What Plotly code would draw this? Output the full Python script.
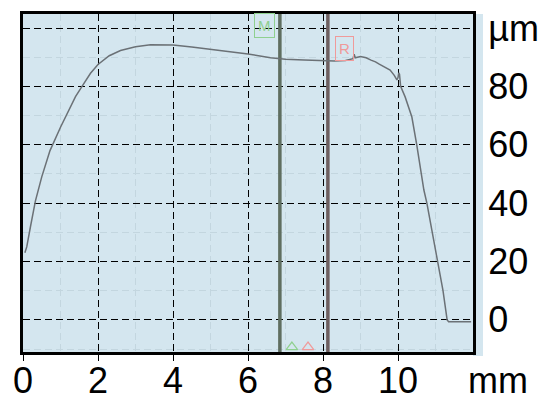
import plotly.graph_objects as go

# profile data (mm, µm)
x_mm = [0.05, 0.1, 0.2, 0.33, 0.5, 0.72, 1.0, 1.2, 1.4, 1.6, 1.8, 2.0, 2.3, 2.6, 3.0,
        3.4, 3.8, 4.0, 4.5, 5.0, 5.5, 6.0, 6.6, 7.0, 7.5, 8.0, 8.3, 8.6, 8.8, 8.83,
        8.86, 9.0, 9.15, 9.28, 9.4, 9.5, 9.6, 9.7, 9.79, 9.9, 9.97, 10.0, 10.02, 10.04,
        10.07, 10.19, 10.28, 10.37, 10.5, 10.69, 10.77, 10.92, 11.07, 11.2, 11.31, 11.35, 11.95]
y_um = [23, 25, 32, 40.7, 49, 58, 66, 71.5, 76.5, 80.5, 84.5, 87.5, 90.5, 92.3, 93.6,
        94.3, 94.4, 94.2, 93.5, 92.7, 92, 91.1, 89.8, 89.3, 89, 88.7, 88.7, 88.9, 89.5, 91,
        89.8, 90.2, 89.8, 89, 88.4, 87.6, 87.0, 86.3, 85.6, 83.8, 82.2, 83, 84.6, 84.2,
        80, 76.4, 73, 69.5, 60, 44.5, 40, 30, 20, 10, 0, -0.6, -0.6]

cursor_x = [6.85, 8.13]
cursor_names = ["M", "R"]
cursor_colors = ["#5f6e60", "#6e5f60"]
label_colors = ["#8fd08f", "#f09a9a"]

x_ticks = [0, 2, 4, 6, 8, 10]
x_ticktext = ["0", "2", "4", "6", "8", "10"]
x_unit = "mm"
y_ticks = [0, 20, 40, 60, 80, 100]
y_ticktext = ["0", "20", "40", "60", "80", "µm"]

BG = "#d4e6ef"
FONT = "Liberation Sans, Arial, sans-serif"
FS = 36

fig = go.Figure()

for cx, cc in zip(cursor_x, cursor_colors):
    fig.add_trace(go.Scatter(x=[cx, cx], y=[-11, 105], mode="lines",
                             line=dict(color=cc, width=3.5), hoverinfo="skip", showlegend=False))

fig.add_trace(go.Scatter(x=x_mm, y=y_um, mode="lines",
                         line=dict(color="#6b7176", width=1.5), showlegend=False))

# small bottom markers near the cursors
fig.add_trace(go.Scatter(x=[cursor_x[0] + 0.32, cursor_x[0] + 0.75], y=[-9.3, -9.3], mode="markers",
                         marker=dict(symbol="triangle-up-open", size=10,
                                     color=label_colors, line=dict(width=1.2, color=label_colors)),
                         showlegend=False, hoverinfo="skip"))

fig.update_layout(
    width=542, height=402,
    margin=dict(l=23, r=69, t=14, b=50),
    paper_bgcolor="white",
    plot_bgcolor=BG,
    font=dict(family=FONT, size=FS, color="black"),
    showlegend=False,
)

fig.update_xaxes(
    range=[0, 12], tickvals=x_ticks, showticklabels=False, automargin=False,
    showgrid=True, gridcolor="black", gridwidth=1.3, griddash="7px,4px",
    minor=dict(dtick=1, tick0=0, showgrid=True, gridcolor="#c3d6df", gridwidth=1, ticks=""),
    showline=True, linecolor="black", linewidth=3, mirror=True,
    ticks="outside", ticklen=6, tickwidth=1.3, tickcolor="black",
    zeroline=False,
)
fig.update_yaxes(
    range=[-11, 104.8], tickvals=y_ticks, ticktext=y_ticktext, side="right", automargin=False,
    showgrid=True, gridcolor="black", gridwidth=1.3, griddash="7px,4px",
    minor=dict(dtick=10, tick0=0, showgrid=True, gridcolor="#c3d6df", gridwidth=1, ticks=""),
    showline=True, linecolor="black", linewidth=3, mirror=True,
    ticks="", zeroline=False, ticklabelstandoff=5,
)

# light blue strip to the right of the frame
fig.add_shape(type="rect", xref="paper", yref="paper", x0=1, x1=1 + 10 / 450,
              y0=-4 / 338, y1=1, fillcolor=BG, line=dict(width=0), layer="below")

# x tick labels (bottom-anchored so the text box stays inside the page)
lab_y = (352 - 402) / 338
for tv, tt in zip(x_ticks, x_ticktext):
    fig.add_annotation(x=tv, xref="x", yref="paper", y=lab_y, text=tt,
                       showarrow=False, xanchor="center", yanchor="bottom", borderpad=0,
                       font=dict(size=FS, color="black"))
# unit label for the x axis
fig.add_annotation(xref="paper", yref="paper", x=(498 - 23) / 450, y=lab_y,
                   text=x_unit, showarrow=False, font=dict(size=FS, color="black"),
                   xanchor="center", yanchor="bottom", borderpad=0)

# cursor name boxes
fig.add_annotation(x=cursor_x[0] - 0.4, y=101, text=cursor_names[0], showarrow=False,
                   font=dict(size=15, color=label_colors[0]), bordercolor=label_colors[0],
                   borderwidth=1, borderpad=3, bgcolor="rgba(0,0,0,0)")
fig.add_annotation(x=cursor_x[1] + 0.45, y=93, text=cursor_names[1], showarrow=False,
                   font=dict(size=15, color=label_colors[1]), bordercolor=label_colors[1],
                   borderwidth=1, borderpad=3, bgcolor="rgba(0,0,0,0)")

fig.write_html("out.html")
